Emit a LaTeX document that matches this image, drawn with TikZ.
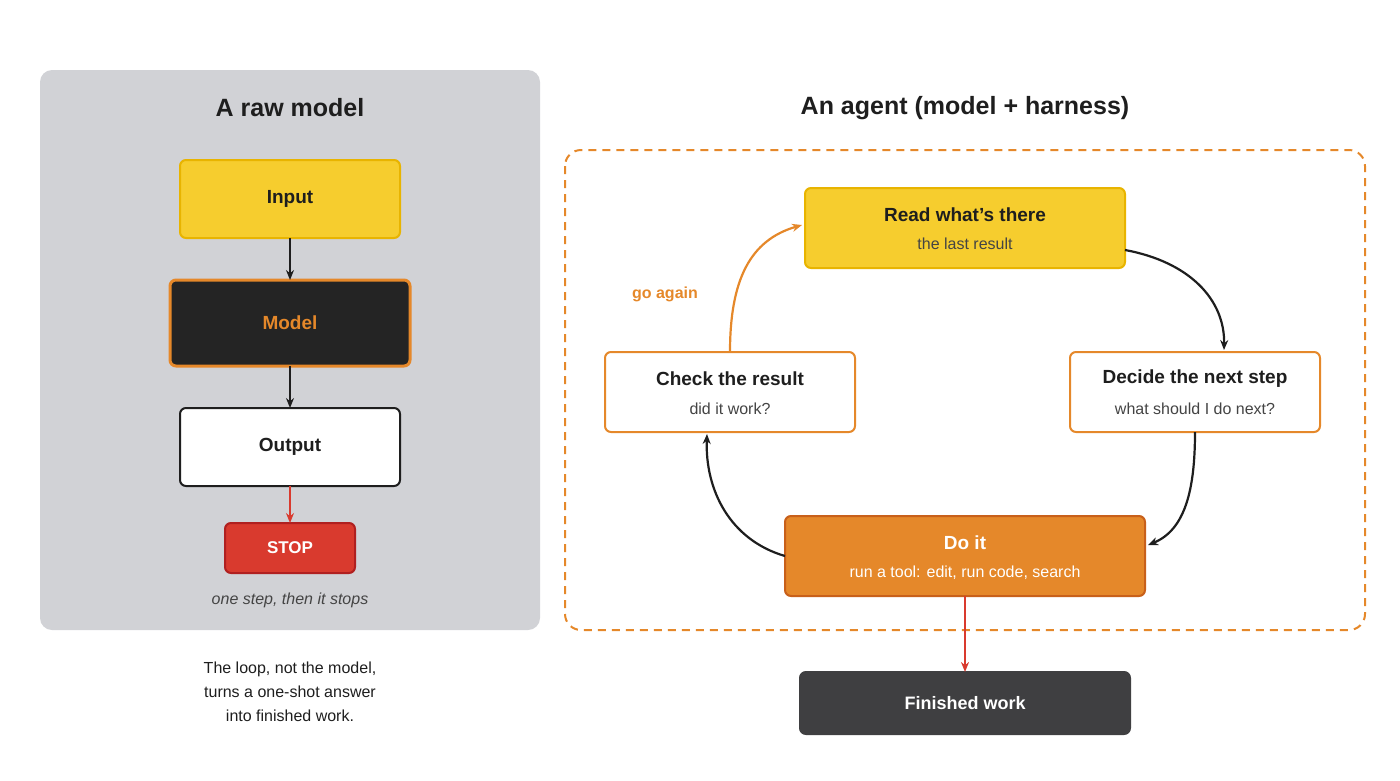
\documentclass[tikz,border=0pt]{standalone}
\usepackage{fontspec}
\setmainfont{Liberation Sans}
\usetikzlibrary{arrows.meta}
\definecolor{panel}{HTML}{D1D2D6}
\definecolor{yel}{HTML}{F6CD2E}
\definecolor{yelb}{HTML}{E8B400}
\definecolor{org}{HTML}{E5882A}
\definecolor{orgb}{HTML}{C8601A}
\definecolor{dark}{HTML}{242424}
\definecolor{redc}{HTML}{D93A2E}
\definecolor{redb}{HTML}{B02020}
\definecolor{fin}{HTML}{3F3F41}
\definecolor{txt}{HTML}{1E1E1E}
\definecolor{sub}{HTML}{444444}
\tikzset{
 box/.style={rounded corners=6pt,line width=2pt},
 t/.style={font=\bfseries\fontsize{19}{22}\selectfont,text=txt},
 s/.style={font=\fontsize{16}{19}\selectfont,text=sub},
 arr/.style={-{Stealth[length=10pt,width=8pt]},line width=2.2pt,draw=txt},
}
\begin{document}
\begin{tikzpicture}[x=1pt,y=-1pt]
\useasboundingbox (0,0) rectangle (1400,780);
\fill[panel,rounded corners=12pt] (40,70) rectangle (540,630);
\node[font=\bfseries\fontsize{25}{29}\selectfont,text=txt] (lt) at (290,108) {A raw model};
\draw[box,fill=yel,draw=yelb] (180,160) rectangle (400,238);
\node[t] (in) at (290,199) {Input};
\draw[box,fill=dark,draw=org,line width=3pt] (170,280) rectangle (410,366);
\node[t,text=org] (mo) at (290,323) {Model};
\draw[box,fill=white,draw=txt] (180,408) rectangle (400,486);
\node[t] (out) at (290,447) {Output};
\draw[box,fill=redc,draw=redb] (225,523) rectangle (355,573);
\node[t,text=white,font=\bfseries\fontsize{17}{20}\selectfont] (st) at (290,548) {STOP};
\node[s,font=\itshape\fontsize{16}{19}\selectfont] (note) at (290,600) {one step, then it stops};
\coordinate (a1) at (290,238); \coordinate (a2) at (290,280);
\coordinate (a3) at (290,366); \coordinate (a4) at (290,408);
\coordinate (a5) at (290,486); \coordinate (a6) at (290,523);
\draw[arr] (a1) -- (a2);
\draw[arr] (a3) -- (a4);
\draw[arr,draw=redc] (a5) -- (a6);
\node[s,align=center,text=txt,font=\fontsize{16}{24}\selectfont] (cap) at (290,692) {The loop, not the model,\\turns a one-shot answer\\into finished work.};
\node[font=\bfseries\fontsize{25}{29}\selectfont,text=txt] (rt) at (965,108) {An agent (model + harness)};
\draw[org,line width=2pt,dash pattern=on 8pt off 6pt,rounded corners=16pt] (565,150) rectangle (1365,630);
% Read
\draw[box,fill=yel,draw=yelb] (805,188) rectangle (1125,268);
\node[t] (rd) at (965,215) {Read what\char39 s there};
\node[s] (rds) at (965,244) {the last result};
% Decide
\draw[box,fill=white,draw=org] (1070,352) rectangle (1320,432);
\node[t] (de) at (1195,379) {Decide the next step};
\node[s] (des) at (1195,409) {what should I do next?};
% Check
\draw[box,fill=white,draw=org] (605,352) rectangle (855,432);
\node[t] (ch) at (730,379) {Check the result};
\node[s] (chs) at (730,409) {did it work?};
% Do it
\draw[box,fill=org,draw=orgb] (785,516) rectangle (1145,596);
\node[t,text=white] (do) at (965,543) {Do it};
\node[s,text=white] (dos) at (965,573) {run a tool: edit, run code, search};
% Finished
\draw[box,fill=fin,draw=fin] (800,672) rectangle (1130,734);
\node[t,text=white,font=\bfseries\fontsize{18}{21}\selectfont] (fw) at (965,703) {Finished work};
% arrows
\coordinate (r1) at (1125,250); \coordinate (r2) at (1224,350);
\draw[arr] (r1) .. controls (1190,262) and (1225,300) .. (r2);
\coordinate (d1) at (1195,432); \coordinate (d2) at (1148,545);
\draw[arr] (d1) .. controls (1195,490) and (1185,530) .. (d2);
\coordinate (o1) at (785,556); \coordinate (o2) at (707,434);
\draw[arr] (o1) .. controls (730,540) and (705,490) .. (o2);
\coordinate (c1) at (730,352); \coordinate (c2) at (802,225);
\draw[arr,draw=org] (c1) .. controls (730,280) and (750,240) .. (c2);
\node[font=\bfseries\fontsize{16}{19}\selectfont,text=org] (ga) at (665,294) {go again};
\coordinate (f1) at (965,596); \coordinate (f2) at (965,672);
\draw[arr,draw=redc] (f1) -- (f2);
\end{tikzpicture}
\end{document}
